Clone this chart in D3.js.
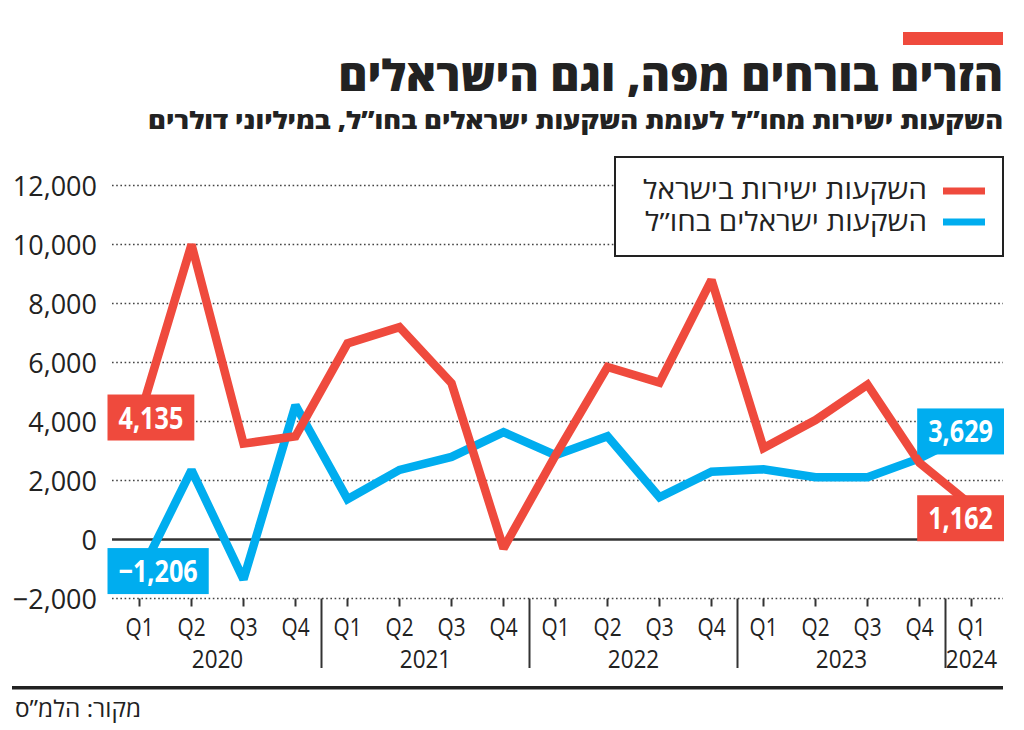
<!DOCTYPE html>
<html lang="he">
<head>
<meta charset="utf-8">
<script src="https://cdn.jsdelivr.net/npm/d3@7"></script>
<style>
  html, body { margin: 0; padding: 0; background: #fff; }
  svg { display: block; }
  text { font-family: "Open Sans", "DejaVu Sans", sans-serif; }
</style>
</head>
<body>
<svg id="chart" width="1024" height="730"></svg>
<script>
// ---------- data ----------
const years = ["2020", "2021", "2022", "2023", "2024"];
const quarters = ["Q1", "Q2", "Q3", "Q4", "Q1", "Q2", "Q3", "Q4", "Q1", "Q2", "Q3", "Q4", "Q1", "Q2", "Q3", "Q4", "Q1"];
const quarterYears = ["2020", "2020", "2020", "2020", "2021", "2021", "2021", "2021", "2022", "2022", "2022", "2022", "2023", "2023", "2023", "2023", "2024"];
// השקעות ישירות בישראל (red)
const fdiIsrael = [4135, 10000, 3250, 3500, 6650, 7200, 5300, -300, 2850, 5850, 5320, 8800, 3100, 4050, 5250, 2600, 1162];
// השקעות ישראלים בחו"ל (blue)
const israelisAbroad = [-1206, 2350, -1350, 4550, 1370, 2360, 2800, 3640, 2860, 3500, 1430, 2300, 2380, 2110, 2110, 2750, 3629];
const yTicks = [-2000, 0, 2000, 4000, 6000, 8000, 10000, 12000];
const seriesNames = ["השקעות ישירות בישראל", "השקעות ישראלים בחו”ל"];
const title = "הזרים בורחים מפה, וגם הישראלים";
const subtitle = "השקעות ישירות מחו”ל לעומת השקעות ישראלים בחו”ל, במיליוני דולרים";
const source = "מקור: הלמ”ס";

const RED = "#EF4A3D";
const BLUE = "#00ADEF";
const INK = "#222";

// ---------- helpers ----------
function condense(sel, k) {
  sel.each(function () {
    const t = d3.select(this);
    const x = +t.attr("x") || 0, y = +t.attr("y") || 0;
    t.attr("x", 0).attr("y", 0).attr("transform", `translate(${x},${y}) scale(${k},1)`);
  });
}
function fitWidth(sel, w) {
  const len = sel.node().getComputedTextLength();
  condense(sel, w / len);
}

const svg = d3.select("#chart");
const keys = quarters.map((q, i) => quarterYears[i] + q);

const x = d3.scalePoint().domain(keys).range([139.5, 971.5]);
const y = d3.scaleLinear().domain([-2000, 12000]).range([598.5, 185.5]);

// ---------- header ----------
svg.append("rect").attr("x", 903).attr("y", 32).attr("width", 100).attr("height", 13).attr("fill", RED);

const tTitle = svg.append("text").attr("x", 1003).attr("y", 91)
  .attr("text-anchor", "end").attr("font-size", 43).attr("font-weight", 800)
  .attr("fill", INK).text(title);
fitWidth(tTitle, 665);

const tSub = svg.append("text").attr("x", 1003).attr("y", 129)
  .attr("text-anchor", "end").attr("font-size", 24).attr("font-weight", 800)
  .attr("fill", INK).text(subtitle);
fitWidth(tSub, 855);

// ---------- grid ----------
svg.append("g").selectAll("line").data(yTicks.filter(d => d !== 0)).join("line")
  .attr("x1", 112).attr("x2", 1003)
  .attr("y1", d => y(d)).attr("y2", d => y(d))
  .attr("stroke", "#444").attr("stroke-width", 1.6).attr("stroke-dasharray", "1.6 2.6");

svg.append("line").attr("x1", 112).attr("x2", 1003).attr("y1", y(0)).attr("y2", y(0))
  .attr("stroke", "#333").attr("stroke-width", 2.6);

// y labels
svg.append("g").selectAll("text").data(yTicks).join("text")
  .attr("x", 97).attr("y", d => y(d) + 10)
  .attr("text-anchor", "end").attr("font-size", 27).attr("fill", INK)
  .text(d => d3.format(",")(d));

// x ticks
svg.append("g").selectAll("line").data(keys).join("line")
  .attr("x1", d => x(d)).attr("x2", d => x(d))
  .attr("y1", y(-2000)).attr("y2", y(-2000) + 8)
  .attr("stroke", "#333").attr("stroke-width", 2);

// quarter labels
const qLabels = svg.append("g").selectAll("text").data(keys).join("text")
  .attr("x", d => x(d)).attr("y", 636)
  .attr("text-anchor", "middle").attr("font-size", 26).attr("fill", INK)
  .text((d, i) => quarters[i]);
condense(qLabels, 0.8);

// year separators
const sepX = [];
for (let i = 1; i < keys.length; i++) {
  if (quarterYears[i] !== quarterYears[i - 1]) sepX.push((x(keys[i]) + x(keys[i - 1])) / 2);
}
svg.append("g").selectAll("line").data(sepX).join("line")
  .attr("x1", d => d).attr("x2", d => d)
  .attr("y1", y(-2000)).attr("y2", 668)
  .attr("stroke", "#333").attr("stroke-width", 2);

// year labels
const yearLabels = svg.append("g").selectAll("text").data(years).join("text")
  .attr("x", yr => {
    const xs = keys.filter((k, i) => quarterYears[i] === yr).map(k => x(k));
    return (d3.min(xs) + d3.max(xs)) / 2;
  })
  .attr("y", 668)
  .attr("text-anchor", "middle").attr("font-size", 25).attr("fill", INK)
  .text(d => d);
condense(yearLabels, 0.9);

// ---------- lines ----------
const lineGen = d3.line().x((d, i) => x(keys[i])).y(d => y(d));
svg.append("path").datum(israelisAbroad).attr("d", lineGen)
  .attr("fill", "none").attr("stroke", BLUE).attr("stroke-width", 8.5)
  .attr("stroke-linejoin", "miter").attr("stroke-miterlimit", 2);
svg.append("path").datum(fdiIsrael).attr("d", lineGen)
  .attr("fill", "none").attr("stroke", RED).attr("stroke-width", 8.5)
  .attr("stroke-linejoin", "miter").attr("stroke-miterlimit", 2);

// ---------- value labels ----------
const last = keys.length - 1;
const valueLabels = [
  { v: fdiIsrael[0], key: keys[0], color: RED, side: "left", dy: 0 },
  { v: israelisAbroad[0], key: keys[0], color: BLUE, side: "left", dy: -4 },
  { v: israelisAbroad[last], key: keys[last], color: BLUE, side: "right", dy: -1 },
  { v: fdiIsrael[last], key: keys[last], color: RED, side: "right", dy: 13 }
];
const lblK = 0.84, padX = 11, boxH = 46;
valueLabels.forEach(l => {
  const g = svg.append("g");
  const rect = g.append("rect").attr("fill", l.color);
  const t = g.append("text").attr("font-size", 30).attr("font-weight", 700)
    .attr("fill", "#fff").attr("text-anchor", "middle").text(d3.format(",")(l.v));
  const w = t.node().getComputedTextLength() * lblK + 2 * padX;
  const cy = y(l.v) + l.dy;
  const x0 = l.side === "left" ? x(l.key) - 32 : x(l.key) + 32.5 - w;
  rect.attr("x", x0).attr("y", cy - boxH / 2).attr("width", w).attr("height", boxH);
  t.attr("x", x0 + w / 2).attr("y", cy + 11);
  condense(t, lblK);
});

// ---------- legend ----------
const lg = svg.append("g");
lg.append("rect").attr("x", 615).attr("y", 157).attr("width", 388).attr("height", 99)
  .attr("fill", "#fff").attr("stroke", INK).attr("stroke-width", 2);
const legendColors = [RED, BLUE];
seriesNames.forEach((name, i) => {
  const yy = 191 + i * 31;
  lg.append("line").attr("x1", 943).attr("x2", 985).attr("y1", yy).attr("y2", yy)
    .attr("stroke", legendColors[i]).attr("stroke-width", 7);
  const t = lg.append("text").attr("x", 927).attr("y", yy + 7.5 + (i === 0 ? 0 : 1))
    .attr("text-anchor", "end").attr("font-size", 26).attr("fill", INK).text(name);
  fitWidth(t, i === 0 ? 284 : 282);
});

// ---------- footer ----------
svg.append("rect").attr("x", 12).attr("y", 686).attr("width", 991).attr("height", 3.5).attr("fill", INK);
const tSrc = svg.append("text").attr("x", 141).attr("y", 717)
  .attr("text-anchor", "end").attr("font-size", 23).attr("fill", INK).text(source);
fitWidth(tSrc, 126);
</script>
</body>
</html>
